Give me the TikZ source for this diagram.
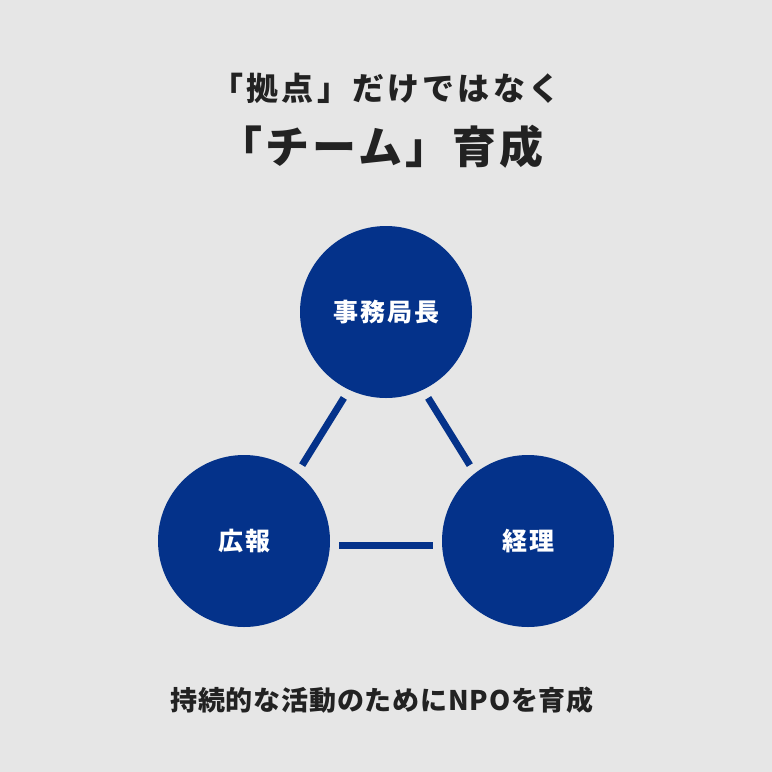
\documentclass[tikz,border=0pt]{standalone}
\usepackage{fontspec}
\newfontfamily\jp{Noto Sans CJK JP}
\definecolor{navy}{RGB}{4,50,138}
\definecolor{bg}{RGB}{230,230,230}
\definecolor{ink}{RGB}{34,34,34}

\begin{document}
\begin{tikzpicture}[x=1pt,y=-1pt,
  role/.style={circle,fill=navy,minimum size=172pt,inner sep=0pt,text=white,
    font=\jp\bfseries\fontsize{25}{25}\selectfont\addfontfeature{LetterSpace=8}},
  link/.style={draw=navy,line width=7pt,shorten <=9pt,shorten >=9pt,
    transform canvas={shift={#1}}},
  head/.style 2 args={text=ink,inner sep=0pt,
    font=\jp\bfseries\fontsize{#1}{#1}\selectfont\addfontfeature{LetterSpace=#2}}]
\fill[bg] (0,0) rectangle (772,772);
% titles
\node[head={32}{10}] (top1) at (386,88) {「拠点」だけではなく};
\node[head={44}{7}] (top2) at (381,147) {「チーム」育成};
% roles
\node[role] (chief) at (386,312) {事務局長};
\node[role] (pr) at (244,541) {広報};
\node[role] (acct) at (528,541) {経理};
\draw[link={(8,5)}] (chief) -- (pr);
\draw[link={(-8,5)}] (chief) -- (acct);
\draw[link={(0,4)}] (pr) -- (acct);
% footer
\node[head={27}{3}] (foot) at (382,700) {持続的な活動のためにNPOを育成};
\end{tikzpicture}
\end{document}
